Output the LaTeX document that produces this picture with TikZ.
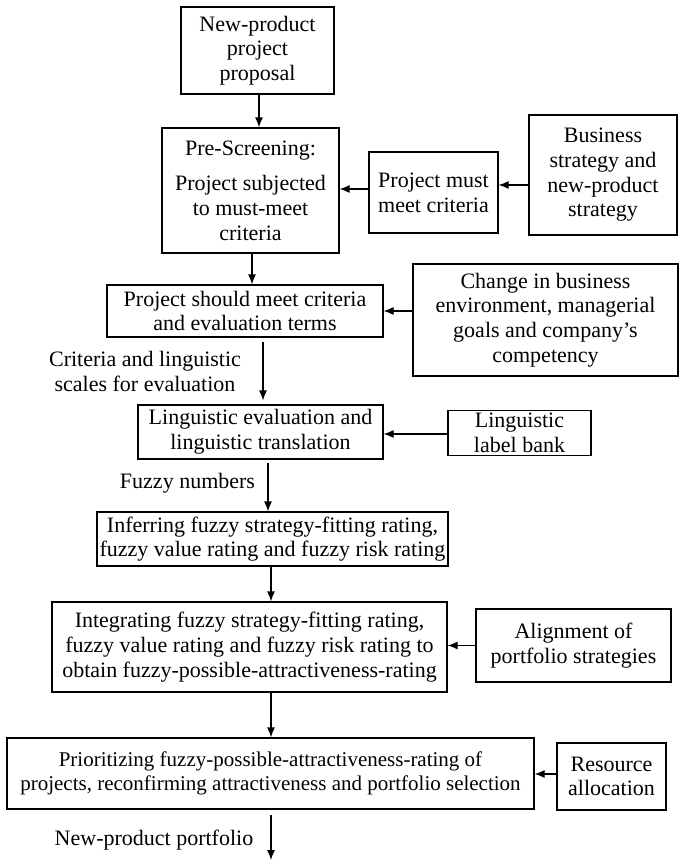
\documentclass[tikz,border=0pt]{standalone}
\usepackage{fontspec}
\setmainfont{Liberation Serif}
\usetikzlibrary{arrows.meta}

\begin{document}
\begin{tikzpicture}[x=1pt,y=-1pt,>={Latex[length=10pt,width=8pt]},line width=1.2pt,
    every node/.style={font=\fontsize{22}{24.7}\selectfont},
    box/.style={draw,align=center,inner sep=1pt},
    note/.style={align=center}]
    \useasboundingbox (0,0) rectangle (679,861);

    % main chain
    \node[box,minimum width=153pt,minimum height=87pt] (proposal) at (257.5,50.5) {New-product\\project\\proposal};
    \node[box,minimum width=177pt,minimum height=125pt] (prescreen) at (250.5,190.5) {Pre-Screening:\\[11pt]Project subjected\\to must-meet\\criteria};
    \node[box,minimum width=276pt,minimum height=52pt] (shouldmeet) at (245,311) {Project should meet criteria\\and evaluation terms};
    \node[box,minimum width=245pt,minimum height=54pt] (lingeval) at (260.5,432) {Linguistic evaluation and\\linguistic translation};
    \node[box,minimum width=351pt,minimum height=54pt] (inferring) at (272.5,539) {Inferring fuzzy strategy-fitting rating,\\fuzzy value rating and fuzzy risk rating};
    \node[box,minimum width=395pt,minimum height=90pt] (integrating) at (249.5,647) {Integrating fuzzy strategy-fitting rating,\\fuzzy value rating and fuzzy risk rating to\\obtain fuzzy-possible-attractiveness-rating};
    \node[box,minimum width=527pt,minimum height=71pt,font=\fontsize{21}{24.7}\selectfont] (prioritizing) at (270.5,773.5) {Prioritizing fuzzy-possible-attractiveness-rating of\\projects, reconfirming attractiveness and portfolio selection};
    \coordinate (portfolio) at (271,860);

    % side inputs
    \node[box,minimum width=129pt,minimum height=81pt] (mustmeet) at (433.5,192.5) {Project must\\meet criteria};
    \node[box,minimum width=148pt,minimum height=120pt] (bizstrat) at (603,175) {Business\\strategy and\\new-product\\strategy};
    \node[box,minimum width=265pt,minimum height=112pt] (change) at (545.5,320) {Change in business\\environment, managerial\\goals and company’s\\competency};
    \node[box,minimum width=143pt,minimum height=45pt,inner sep=0pt] (labelbank) at (519.5,433) {Linguistic\\label bank};
    \node[box,minimum width=195pt,minimum height=73pt] (alignment) at (573.5,645.5) {Alignment of\\portfolio strategies};
    \node[box,minimum width=109pt,minimum height=67pt] (resource) at (611.5,776.5) {Resource\\allocation};

    % labels on the flow
    \node[note] (critlabel) at (145,371.5) {Criteria and linguistic\\scales for evaluation};
    \node[note] (fuzzylabel) at (187.5,483) {Fuzzy numbers};
    \node[note] (portlabel) at (154,840) {New-product portfolio};

    % vertical flow
    \draw[->] ([xshift=1.5pt]proposal.south) -- ([xshift=1.5pt]proposal.south |- prescreen.north);
    \draw[->] ([xshift=1.5pt]prescreen.south) -- ([xshift=1.5pt]prescreen.south |- shouldmeet.north);
    \draw[->,shorten <=4pt,shorten >=4pt] ([xshift=2.5pt]lingeval.north |- shouldmeet.south) -- ([xshift=2.5pt]lingeval.north);
    \draw[->,shorten <=3pt] ([xshift=7.5pt]lingeval.south) -- ([xshift=-4.5pt]inferring.north);
    \draw[->] ([xshift=-1.5pt]inferring.south) -- ([xshift=-1.5pt]inferring.south |- integrating.north);
    \draw[->] ([xshift=0.5pt]prioritizing.north |- integrating.south) -- ([xshift=0.5pt]prioritizing.north);
    \draw[->,shorten <=5pt] (portfolio |- prioritizing.south) -- (portfolio);

    % side arrows
    \draw[->] ([yshift=3.5pt]mustmeet.west) -- ([yshift=3.5pt]mustmeet.west -| prescreen.east);
    \draw[->] ([yshift=7.5pt]mustmeet.east -| bizstrat.west) -- ([yshift=7.5pt]mustmeet.east);
    \draw[->] (change.west |- shouldmeet.east) -- (shouldmeet.east);
    \draw[->] ([yshift=-1pt]labelbank.west) -- ([yshift=-1pt]labelbank.west -| lingeval.east);
    \draw[->] (alignment.west) -- (alignment.west -| integrating.east);
    \draw[->] ([yshift=2.5pt]resource.west) -- ([yshift=2.5pt]resource.west -| prioritizing.east);
\end{tikzpicture}
\end{document}
